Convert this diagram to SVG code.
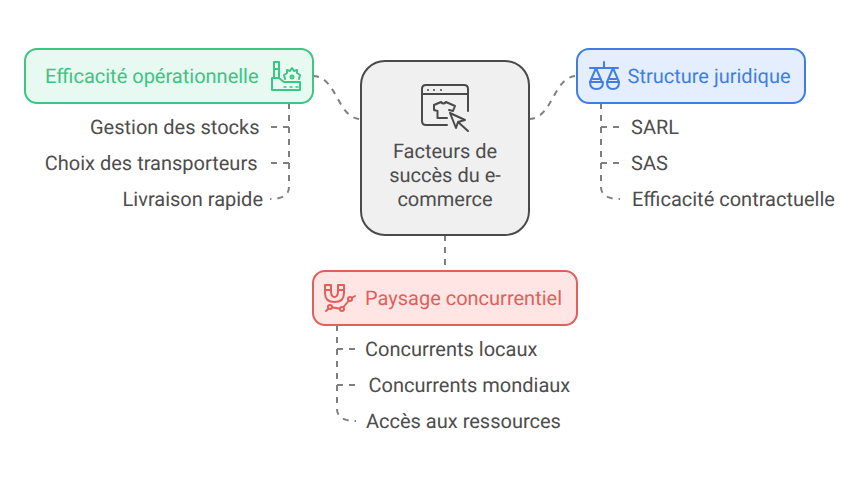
<svg xmlns="http://www.w3.org/2000/svg" width="866" height="482" viewBox="0 0 866 482">
<style>
text{font-family:Roboto,"Liberation Sans",sans-serif;font-size:20px;fill:#4d4d4d;text-rendering:geometricPrecision}
.c{fill:none;stroke:#808080;stroke-width:2;stroke-dasharray:6 6}
.i{fill:none;stroke-width:2;stroke-linecap:round;stroke-linejoin:round}
.box{stroke-width:2}
</style>
<rect width="866" height="482" fill="#fff"/>
<g id="connectors">
<path class="c" d="M313 76C337 76 337 119 361 119"/>
<path class="c" d="M529 119C553 119 553 76 577 76"/>
<path class="c" d="M445 235V271"/>
<path class="c" d="M289 103V187Q289 199 270 199"/>
<path class="c" d="M289 127H271"/>
<path class="c" d="M289 163H271"/>
<path class="c" d="M601 103V187Q601 199 620 199"/>
<path class="c" d="M601 127H619"/>
<path class="c" d="M601 163H619"/>
<path class="c" d="M337 325V409Q337 421 356 421"/>
<path class="c" d="M337 349H355"/>
<path class="c" d="M337 385H355"/>
</g>
<g id="node-center">
<rect class="box" x="361" y="61" width="168" height="174" rx="24" fill="#f0f0f0" stroke="#4a4a4a"/>
<g class="i" stroke="#4a4a4a">
<path d="M447 125H426Q422 125 422 121V89Q422 85 426 85H464Q468 85 468 89V111M422 94H468"/>
<path d="M441 102Q443.500 105 446 102L455 106 453 111 449 110M441 102L434 105V110L437.500 111V118H447"/>
<path d="M450 113L465 120 458 122 456 128ZM458 122L468 131"/>
</g>
<circle cx="428" cy="90" r="1" fill="#4a4a4a"/><circle cx="434" cy="90" r="1" fill="#4a4a4a"/><circle cx="441" cy="90" r="1" fill="#4a4a4a"/>
<text x="445" y="158" text-anchor="middle">Facteurs de</text>
<text x="445" y="182" text-anchor="middle">succès du e-</text>
<text x="445" y="206" text-anchor="middle">commerce</text>
</g>
<g id="node-operations">
<rect class="box" x="25" y="49" width="288" height="54" rx="12" fill="#e8f9f2" stroke="#3cc583"/>
<text x="45" y="83" style="fill:#3cc583">Efficacité opérationnelle</text>
<g class="i" stroke="#3cc583">
<path d="M272 90V78H279L284 82H300V90ZM274 78V62H279V78M274 69H279"/>
<path d="M284 87H286M290 87H292M296 87H298" stroke-width="1.500"/>
<path d="M285 79L284 75 287 73 287 70 290 71 292 68 294 71 297 70 297 73 300 75 299 79"/>
<circle cx="292" cy="77" r="1.500"/>
</g>
</g>
<g id="node-legal">
<rect class="box" x="577" y="49" width="228" height="54" rx="12" fill="#e4eeff" stroke="#3f7fe5"/>
<text x="627.500" y="83" style="fill:#3f7fe5">Structure juridique</text>
<g class="i" stroke="#3f7fe5">
<path d="M590 68H618M604 62V68"/>
<path d="M596 68L590 82H602ZM613 68L607 82H619ZM593 79H599M610 79H616"/>
<path d="M590 82H603Q603 89 596.500 89 590 89 590 82ZM607 82H619Q619 89 613 89 607 89 607 82Z"/>
</g>
</g>
<g id="node-market">
<rect class="box" x="313" y="271" width="264" height="54" rx="12" fill="#ffe6e4" stroke="#e25f5b"/>
<text x="365" y="305" style="fill:#e25f5b">Paysage concurrentiel</text>
<g class="i" stroke="#e25f5b">
<path d="M325 285H331V291Q331 297 334.500 297 338 297 338 291V285H344V293Q344 302 334.500 302 325 302 325 293Z"/>
<path d="M325 290H331M338 290H344"/>
<path d="M326 311L330 307 342 309 350 299 355 296"/>
<circle cx="330" cy="307" r="2" fill="#ffe6e4"/><circle cx="342" cy="309" r="2" fill="#ffe6e4"/><circle cx="350" cy="299" r="2" fill="#ffe6e4"/>
</g>
</g>
<g id="item-stocks"><text x="259.500" y="134" text-anchor="end">Gestion des stocks</text></g>
<g id="item-transport"><text x="257.500" y="170" text-anchor="end">Choix des transporteurs</text></g>
<g id="item-delivery"><text x="263" y="206" text-anchor="end">Livraison rapide</text></g>
<g id="item-sarl"><text x="631" y="134">SARL</text></g>
<g id="item-sas"><text x="631" y="170">SAS</text></g>
<g id="item-contract"><text x="632" y="206">Efficacité contractuelle</text></g>
<g id="item-local"><text x="365" y="356">Concurrents locaux</text></g>
<g id="item-world"><text x="368.500" y="392">Concurrents mondiaux</text></g>
<g id="item-access"><text x="366" y="428">Accès aux ressources</text></g>
</svg>
